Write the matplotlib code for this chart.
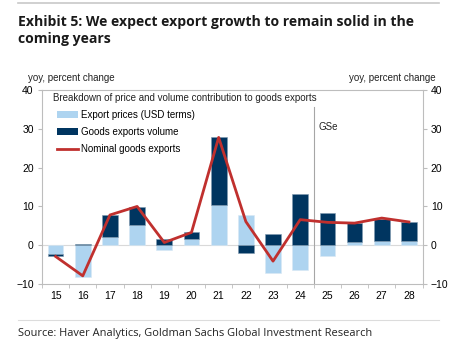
import numpy as np
import matplotlib.pyplot as plt
from matplotlib.patches import Patch
from matplotlib.lines import Line2D

# ---- data: yoy % change of goods exports, split into price and volume ----
years = ['15', '16', '17', '18', '19', '20', '21', '22', '23', '24', '25', '26', '27', '28']
export_prices = [-2.2, -8.3, 2.2, 5.2, -1.2, 1.7, 10.3, 7.9, -7.1, -6.5, -2.8, 0.8, 1.0, 1.0]
export_volume = [-0.6, 0.4, 5.6, 4.6, 1.7, 1.7, 17.5, -1.9, 2.85, 13.1, 8.3, 4.9, 5.7, 5.0]
nominal_exports = [-2.9, -7.9, 7.8, 10.0, 0.7, 3.3, 27.8, 6.1, -4.1, 6.6, 5.9, 5.7, 7.0, 6.0]
y_ticks = [-10, 0, 10, 20, 30, 40]

light_blue = '#aed4f0'
navy = '#003560'
red = '#c0302e'
grey = '#bdbdbd'

plt.rcParams['font.family'] = ['Liberation Sans', 'DejaVu Sans']

fig = plt.figure(figsize=(4.55, 3.4), dpi=100)
ax = fig.add_axes((0.0923, 0.1647, 0.8363, 0.5703))

x = np.arange(len(years))
prices = np.array(export_prices)
volume = np.array(export_volume)

# stack the volume on top of prices when both have the same sign,
# otherwise each part starts from zero
vol_base = np.where(np.sign(prices) == np.sign(volume), prices, 0.0)

w = 0.58
ax.bar(x, prices, w, color=light_blue, edgecolor='#d8e8f5', linewidth=0.4, zorder=2)
ax.bar(x, volume, w, bottom=vol_base, color=navy, edgecolor='#7f9ab0', linewidth=0.4, zorder=2)
ax.plot(x, nominal_exports, color=red, lw=2.0, zorder=3)

ax.axhline(0, color='#d9d9d9', lw=0.8, zorder=1)

# forecast divider
ax.plot([9.5, 9.5], [35.6, -10], color='#a6a6a6', lw=0.8, zorder=1)
ax.text(9.67, 30.4, 'GSe', fontsize=7, va='center', ha='left', color='#222222')

ax.set_xlim(-0.5, 13.5)
ax.set_ylim(-10, 40)
ax.set_yticks(y_ticks)
ax.set_xticks(x)
ax.set_xticklabels(years)
ax.set_xticks(np.arange(-0.5, 14, 1), minor=True)
ax.tick_params(axis='x', which='major', length=0, labelsize=7.5, pad=5)
ax.tick_params(axis='x', which='minor', length=3, color=grey, direction='out')
ax.tick_params(axis='y', length=3, color=grey, labelsize=7.5, pad=3,
               labelleft=True, labelright=True, right=True)

for s in ax.spines.values():
    s.set_color(grey)
    s.set_linewidth(0.8)

ax.text(0.029, 0.96, 'Breakdown of price and volume contribution to goods exports',
        transform=ax.transAxes, fontsize=7, va='center', ha='left', color='#222222')

handles = [Patch(facecolor=light_blue, edgecolor='none'),
           Patch(facecolor=navy, edgecolor='none'),
           Line2D([0], [0], color=red, lw=2)]
labels = ['Export prices (USD terms)', 'Goods exports volume', 'Nominal goods exports']
ax.legend(handles, labels, loc='upper left', bbox_to_anchor=(0.028, 0.92), frameon=False,
          fontsize=7, handlelength=2.2, handleheight=0.7, labelspacing=0.75,
          handletextpad=0.3, borderaxespad=0)

fig.text(0.062, 0.77, 'yoy, percent change', fontsize=7, ha='left', va='center', color='#222222')
fig.text(0.958, 0.77, 'yoy, percent change', fontsize=7, ha='right', va='center', color='#222222')

fig.text(0.04, 0.91, 'Exhibit 5: We expect export growth to remain solid in the\ncoming years',
         fontsize=10.1, fontweight='bold', family=['Open Sans', 'DejaVu Sans'],
         ha='left', va='center', linespacing=1.3, color='#1a1a1a')
fig.text(0.04, 0.02, 'Source: Haver Analytics, Goldman Sachs Global Investment Research',
         fontsize=7.9, family=['Open Sans', 'DejaVu Sans'], ha='left', va='center', color='#222222')

fig.add_artist(Line2D([0.04, 0.965], [0.99, 0.99], color='#c8c8c8', lw=1.2))
fig.add_artist(Line2D([0.04, 0.965], [0.06, 0.06], color='#dcdcdc', lw=0.8))

fig.savefig('out.png', dpi=100)
